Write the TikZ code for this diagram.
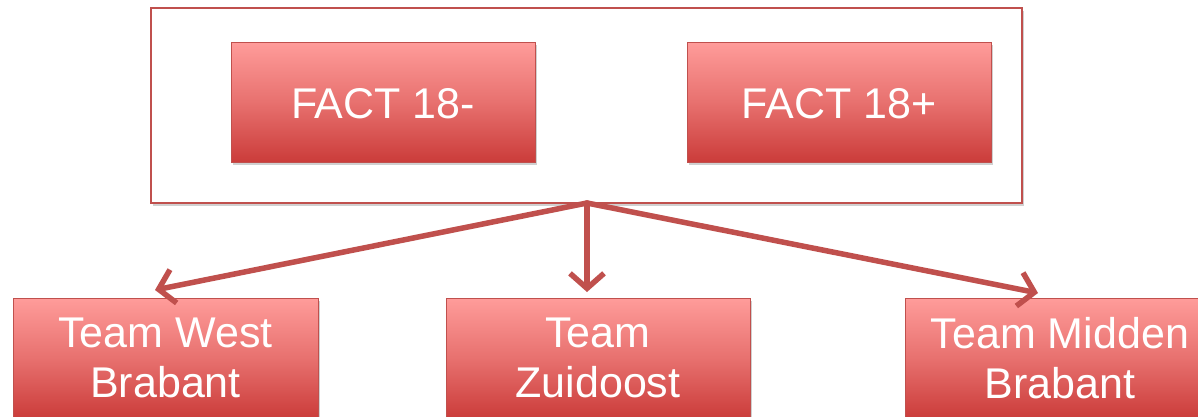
\documentclass[tikz,border=0pt]{standalone}
\usepackage{fontspec}
\setmainfont{Liberation Sans}
\usetikzlibrary{arrows.meta,shadows,calc}
\definecolor{edge}{HTML}{C0504D}
\definecolor{topc}{HTML}{FF9C9A}
\definecolor{botc}{HTML}{CB3C3A}
\tikzset{
  redbox/.style={draw=edge, line width=1pt, top color=topc, bottom color=botc,
    middle color=topc!55!botc, minimum width=304pt, minimum height=120pt,
    text=white, align=center, inner sep=0pt,
    font=\fontsize{43}{50}\selectfont,
    drop shadow={shadow xshift=2pt, shadow yshift=-3pt, opacity=0.3, fill=black!60}},
  outerbox/.style={draw=edge, line width=1.5pt, fill=white, minimum width=871pt, minimum height=195pt,
    drop shadow={shadow xshift=2pt, shadow yshift=-3pt, opacity=0.3, fill=black!60}},
  conn/.style={draw=edge, line width=5.5pt, -{Straight Barb[length=15pt,width=34pt,line width=5.5pt]},
    line cap=round, line join=round}
}
\begin{document}
\begin{tikzpicture}[x=1pt,y=-1pt]
\useasboundingbox (0,0) rectangle (1198,416);
\fill[white] (0,0) rectangle (1198,416);
\node[outerbox] (outer) at (586.5,105.5) {};
\node[redbox, text depth=0pt] (f1) at (383,102) {\raisebox{-3pt}{FACT 18-}};
\node[redbox, text depth=0pt] (f2) at (839,102) {\raisebox{-3pt}{FACT 18+}};
\node[redbox, minimum width=305pt] (west) at (165.5,358) {Team West\\Brabant};
\node[redbox] (zuid) at (598,358) {Team\\Zuidoost};
\node[redbox, minimum width=310pt] (midden) at (1060,358) {Team Midden\\Brabant};
\coordinate (src) at (587,203);
\coordinate (tw) at (155,290);
\coordinate (tz) at (587,292);
\coordinate (tm) at (1038,293);
\draw[conn] (src) -- (tw);
\draw[conn] (src) -- (tz);
\draw[conn] (src) -- (tm);
\end{tikzpicture}
\end{document}
